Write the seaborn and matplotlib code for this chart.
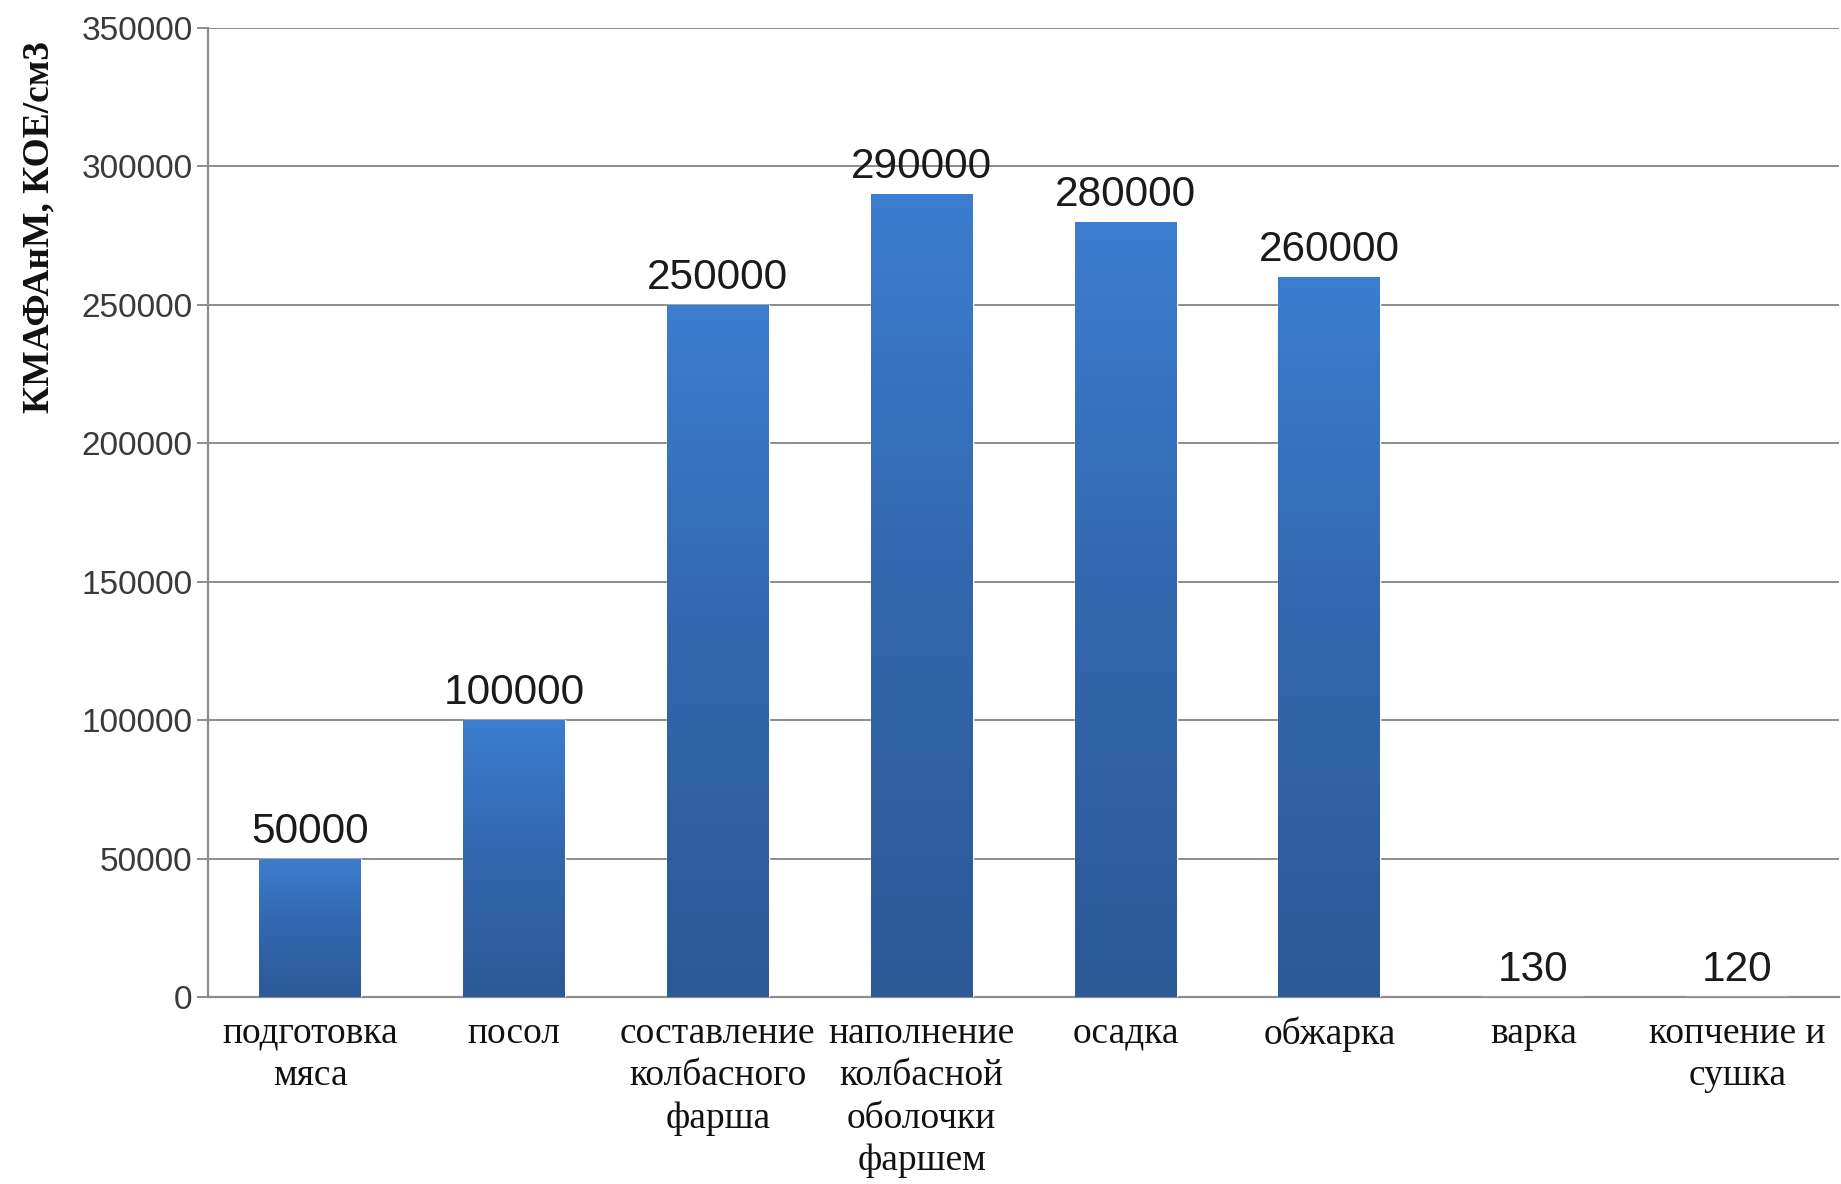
import numpy as np
import pandas as pd
import matplotlib
matplotlib.use("Agg")
import matplotlib.pyplot as plt
import seaborn as sns
from matplotlib.colors import LinearSegmentedColormap

# ---- data ----
categories = ["подготовка\nмяса", "посол", "составление\nколбасного\nфарша",
              "наполнение\nколбасной\nоболочки\nфаршем", "осадка", "обжарка",
              "варка", "копчение и\nсушка"]
values = [50000, 100000, 250000, 290000, 280000, 260000, 130, 120]
y_ticks = [0, 50000, 100000, 150000, 200000, 250000, 300000, 350000]
y_label = "КМАФАнМ, КОЕ/см3"

df = pd.DataFrame({"stage": categories, "value": values})

sns.set_style("white")
plt.rcParams["font.family"] = ["Liberation Serif", "DejaVu Serif"]

fig = plt.figure(figsize=(18.41, 11.84), dpi=100)
ax = fig.add_axes([208 / 1841, 1 - 997 / 1184, 1 - 208 / 1841 - 0.001, (997 - 28) / 1184])

sns.barplot(data=df, x="stage", y="value", color="#3570b8", width=0.5,
            saturation=1, ax=ax, zorder=3)

# gradient fill for each bar
cmap = LinearSegmentedColormap.from_list("bar", ["#2c5a97", "#3266ad", "#3c7dcf"])
grad = np.linspace(0, 1, 256).reshape(-1, 1)
grad = np.hstack([grad, grad * 0.97 + 0.03 * np.linspace(0, 1, 256).reshape(-1, 1)])
for p in ax.patches:
    x0, y0 = p.get_x(), p.get_y()
    w, h = p.get_width(), p.get_height()
    if h <= 0:
        continue
    im = ax.imshow(grad, cmap=cmap, aspect="auto", origin="lower",
                   extent=[x0, x0 + w, y0, y0 + h], zorder=3.5,
                   interpolation="bicubic")
    im.set_clip_path(p)

ax.set_xlim(-0.5, len(categories) - 0.5)
ax.set_ylim(0, 350000)
ax.set_yticks(y_ticks)
ax.set_yticklabels([str(t) for t in y_ticks], family="Liberation Sans",
                   fontsize=24, color="#3a3a3a")
ax.yaxis.grid(True, color="#8c8c8c", linewidth=1.4, zorder=0)
ax.set_axisbelow(True)

# data labels
for i, v in enumerate(values):
    ax.annotate(str(v), (i, v), xytext=(0, 5), textcoords="offset points",
                ha="center", va="bottom", family="Liberation Sans",
                fontsize=30.5, color="#1a1a1a", zorder=5)

# x axis
ax.set_xticks(range(len(categories)))
ax.set_xticklabels(categories, fontsize=27, color="#111111", linespacing=1.3)
ax.set_xticks(np.arange(-0.5, len(categories), 1.0), minor=True)
ax.tick_params(axis="x", which="major", length=0, pad=14)
ax.tick_params(axis="x", which="minor", length=9, width=1.4, color="#8c8c8c",
               direction="out")
ax.tick_params(axis="y", which="major", length=8, width=1.4, color="#8c8c8c",
               direction="out", pad=3, left=True)

for s in ["top", "right"]:
    ax.spines[s].set_visible(False)
for s in ["left", "bottom"]:
    ax.spines[s].set_color("#8c8c8c")
    ax.spines[s].set_linewidth(1.6)

ax.set_xlabel("")
ax.set_ylabel(y_label, fontsize=27, fontweight="bold", color="#111111")
ax.yaxis.set_label_coords((56 - 208) / 1633, (997 - 227) / 969)

fig.savefig("out.png", dpi=100, facecolor="white")
